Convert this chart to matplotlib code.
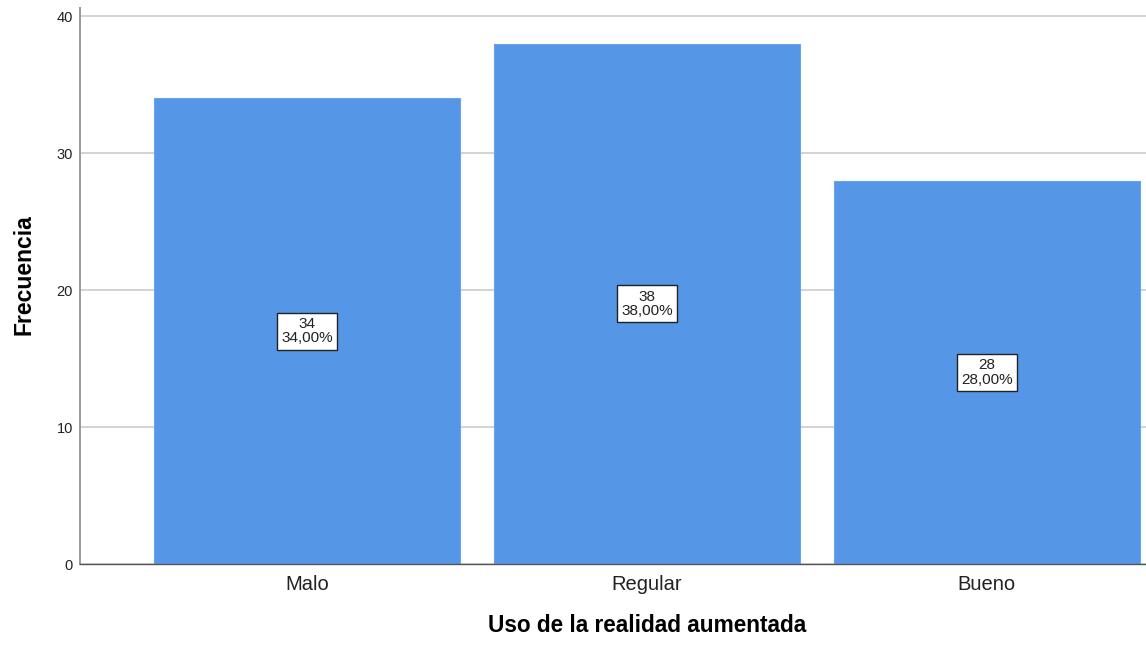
import matplotlib.pyplot as plt

categorias = ["Malo", "Regular", "Bueno"]
frecuencias = [34, 38, 28]
porcentajes = [34.0, 38.0, 28.0]
yticks = [0, 10, 20, 30, 40]

plt.rcParams['font.family'] = ['Liberation Sans', 'DejaVu Sans']

fig = plt.figure(figsize=(11.46, 6.46), dpi=100)
ax = fig.add_axes([80 / 1146, 82 / 646, 1 - 80 / 1146, (564 - 8) / 646])

x = list(range(len(categorias)))
ax.bar(x, frecuencias, width=0.9, color="#5596e6", edgecolor="#6aa3ea", linewidth=0.8, zorder=2)

# etiqueta con frecuencia y porcentaje en el centro de cada barra
for xi, f, p in zip(x, frecuencias, porcentajes):
    etiqueta = f"{f}\n{p:.2f}%".replace(".", ",")
    ax.text(xi, f / 2, etiqueta, ha="center", va="center", fontsize=11, linespacing=1.05,
            color="#222222",
            bbox=dict(boxstyle="square,pad=0.28", fc="white", ec="#222222", lw=1.0), zorder=3)

ax.set_xlim(-0.668, 2.468)
ax.set_ylim(0, 40.6)
ax.set_yticks(yticks)
ax.set_xticks(x)
ax.set_xticklabels(categorias, fontsize=14.5, color="#222222")
ax.tick_params(axis="y", labelsize=10.5, length=0, pad=5, colors="#222222")
ax.tick_params(axis="x", length=0, pad=8)
ax.yaxis.grid(True, color="#cccccc", linewidth=1.2, zorder=0)
ax.set_axisbelow(True)

for lado in ["top", "right"]:
    ax.spines[lado].set_visible(False)
ax.spines["left"].set_color("#999999")
ax.spines["bottom"].set_color("#555555")
ax.spines["left"].set_linewidth(1.4)
ax.spines["bottom"].set_linewidth(1.0)

ax.set_ylabel("Frecuencia", fontsize=16.5, fontweight="bold", labelpad=15)
ax.set_xlabel("Uso de la realidad aumentada", fontsize=16.3, fontweight="bold", labelpad=14)
ax.xaxis.label.set_x(0.532)
ax.yaxis.label.set_y(0.52)

fig.savefig("out.png", dpi=100)
